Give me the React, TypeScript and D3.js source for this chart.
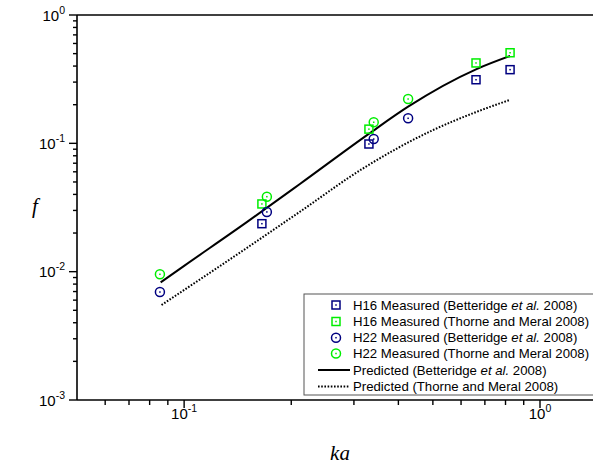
import React from "react";
import * as d3 from "d3";

// ---- data ----
const h16BettKa = [0.1654, 0.3306, 0.661, 0.824];
const h16BettF = [0.02365, 0.0988, 0.313, 0.375];
const h16ThorKa = [0.1654, 0.3306, 0.661, 0.824];
const h16ThorF = [0.0337, 0.129, 0.423, 0.508];
const h22BettKa = [0.0855, 0.1708, 0.341, 0.426];
const h22BettF = [0.00694, 0.0292, 0.108, 0.1567];
const h22ThorKa = [0.0855, 0.1708, 0.341, 0.426];
const h22ThorF = [0.00954, 0.0384, 0.146, 0.2215];
const predBettKa = [0.0859, 0.1, 0.15, 0.2115, 0.331, 0.426, 0.661, 0.824];
const predBettF = [0.00826, 0.0111, 0.0243, 0.0482, 0.119, 0.193, 0.377, 0.479];
const predThorKa = [0.0864, 0.15, 0.2115, 0.3186, 0.501, 0.664, 0.823];
const predThorF = [0.0055, 0.0153, 0.0293, 0.0639, 0.127, 0.176, 0.218];

const xMajor = [0.1, 1];
const xMajorExp = ["-1", "0"];
const xMinor = [0.06, 0.07, 0.08, 0.09, 0.2, 0.3, 0.4, 0.5, 0.6, 0.7, 0.8, 0.9];
const yMajor = [0.001, 0.01, 0.1, 1];
const yMajorExp = ["-3", "-2", "-1", "0"];
const yMinorMult = [2, 3, 4, 5, 6, 7, 8, 9];

const NAVY = "#000080";
const GREEN = "#00ee00";

export default function App() {
  const W = 593, H = 466;
  const left = 77, top = 15, bottom = 400;
  const x = d3.scaleLog().domain([0.05, 1]).range([left, 540]);
  const y = d3.scaleLog().domain([0.001, 1]).range([bottom, top]);
  const yMinor: number[] = [];
  [0.001, 0.01, 0.1].forEach((d) => yMinorMult.forEach((m) => yMinor.push(d * m)));

  const line = d3
    .line<[number, number]>()
    .x((d) => x(d[0]))
    .y((d) => y(d[1]))
    .curve(d3.curveMonotoneX);
  const solidPath = line(predBettKa.map((k, i) => [k, predBettF[i]]) as [number, number][]) || "";
  const dotPath = line(predThorKa.map((k, i) => [k, predThorF[i]]) as [number, number][]) || "";

  const font = "Arial, 'Liberation Sans', sans-serif";
  const serif = "'Times New Roman', 'Liberation Serif', serif";

  const square = (cx: number, cy: number, color: string, key: string) => (
    <g key={key}>
      <rect x={cx - 4} y={cy - 4} width={8} height={8} fill="none" stroke={color} strokeWidth={1.5} />
      <rect x={cx - 0.75} y={cy - 0.75} width={1.5} height={1.5} fill={color} />
    </g>
  );
  const circle = (cx: number, cy: number, color: string, key: string) => (
    <g key={key}>
      <circle cx={cx} cy={cy} r={4.5} fill="none" stroke={color} strokeWidth={1.5} />
      <rect x={cx - 0.75} y={cy - 0.75} width={1.5} height={1.5} fill={color} />
    </g>
  );

  const legendX = 304, legendY = 294;
  const rowY = [305, 321.5, 337.7, 353.5, 370, 386.5];
  const mx = 336, tx = 353;

  return (
    <svg width={W} height={H} style={{ position: "absolute", left: 0, top: 0 }} fontFamily={font}>
      <rect width={W} height={H} fill="#fff" />
      {/* lines */}
      <path d={solidPath} fill="none" stroke="#000" strokeWidth={2} />
      <path d={dotPath} fill="none" stroke="#000" strokeWidth={2} strokeDasharray="1.6 1.6" />
      {/* markers */}
      {h16BettKa.map((k, i) => square(x(k), y(h16BettF[i]), NAVY, "a" + i))}
      {h16ThorKa.map((k, i) => square(x(k), y(h16ThorF[i]), GREEN, "b" + i))}
      {h22BettKa.map((k, i) => circle(x(k), y(h22BettF[i]), NAVY, "c" + i))}
      {h22ThorKa.map((k, i) => circle(x(k), y(h22ThorF[i]), GREEN, "d" + i))}

      {/* legend */}
      <rect x={legendX} y={legendY} width={W} height={101} fill="#fff" stroke="#555" strokeWidth={1} />
      {square(mx, rowY[0], NAVY, "l0")}
      {square(mx, rowY[1], GREEN, "l1")}
      {circle(mx, rowY[2], NAVY, "l2")}
      {circle(mx, rowY[3], GREEN, "l3")}
      <line x1={318} x2={350} y1={rowY[4]} y2={rowY[4]} stroke="#000" strokeWidth={2} />
      <line x1={318} x2={350} y1={rowY[5]} y2={rowY[5]} stroke="#000" strokeWidth={2} strokeDasharray="1.6 1.6" />
      <g fontSize={13.2} fill="#000">
        <text x={tx} y={rowY[0] + 4.7}>
          H16 Measured (Betteridge <tspan fontStyle="italic">et al.</tspan> 2008)
        </text>
        <text x={tx} y={rowY[1] + 4.7}>H16 Measured (Thorne and Meral 2008)</text>
        <text x={tx} y={rowY[2] + 4.7}>
          H22 Measured (Betteridge <tspan fontStyle="italic">et al.</tspan> 2008)
        </text>
        <text x={tx} y={rowY[3] + 4.7}>H22 Measured (Thorne and Meral 2008)</text>
        <text x={tx} y={rowY[4] + 4.7}>
          Predicted (Betteridge <tspan fontStyle="italic">et al.</tspan> 2008)
        </text>
        <text x={tx} y={rowY[5] + 4.7}>Predicted (Thorne and Meral 2008)</text>
      </g>

      {/* axes */}
      <line x1={left} x2={W} y1={top} y2={top} stroke="#000" strokeWidth={1.6} />
      <line x1={left} x2={W} y1={bottom} y2={bottom} stroke="#000" strokeWidth={1.6} />
      <line x1={left} x2={left} y1={top} y2={bottom} stroke="#000" strokeWidth={1.6} />
      {xMinor.map((v) => (
        <line key={"xm" + v} x1={x(v)} x2={x(v)} y1={bottom} y2={bottom + 5} stroke="#000" strokeWidth={1.4} />
      ))}
      {xMajor.map((v, i) => (
        <g key={"xM" + v}>
          <line x1={x(v)} x2={x(v)} y1={bottom} y2={bottom + 8} stroke="#000" strokeWidth={1.4} />
          <text x={x(v)} y={419} textAnchor="middle" fontSize={15}>
            10<tspan dy={-7} fontSize={10.5}>{xMajorExp[i]}</tspan>
          </text>
        </g>
      ))}
      {yMinor.map((v) => (
        <line key={"ym" + v} x1={left - 4} x2={left} y1={y(v)} y2={y(v)} stroke="#000" strokeWidth={1.4} />
      ))}
      {yMajor.map((v, i) => (
        <g key={"yM" + v}>
          <line x1={left - 8} x2={left} y1={y(v)} y2={y(v)} stroke="#000" strokeWidth={1.4} />
          <text x={65} y={y(v) + 5.5} textAnchor="end" fontSize={15}>
            10<tspan dy={-7} fontSize={10.5}>{yMajorExp[i]}</tspan>
          </text>
        </g>
      ))}

      {/* axis titles */}
      <text x={340} y={460} textAnchor="middle" fontFamily={serif} fontStyle="italic" fontSize={21}>
        ka
      </text>
      <text x={35} y={213} textAnchor="middle" fontFamily={serif} fontStyle="italic" fontSize={21}>
        f
      </text>
    </svg>
  );
}
